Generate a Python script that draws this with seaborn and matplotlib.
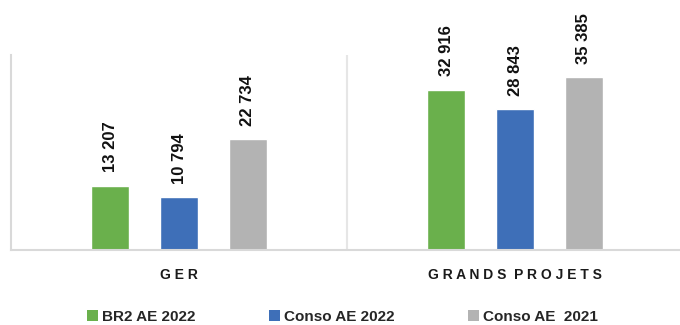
import matplotlib
matplotlib.use("Agg")
import matplotlib.pyplot as plt
import seaborn as sns
import pandas as pd
from matplotlib.patches import Patch

categories = ["G E R", "G R A N D S  P R O J E T S"]
series = ["BR2 AE 2022", "Conso AE 2022", "Conso AE  2021"]
br2_ae_2022 = [13207, 32916]
conso_ae_2022 = [10794, 28843]
conso_ae_2021 = [22734, 35385]
colors = ["#6AB04C", "#3E6FB8", "#B3B3B3"]

rows = []
for s, vals in zip(series, [br2_ae_2022, conso_ae_2022, conso_ae_2021]):
    for c, v in zip(categories, vals):
        rows.append({"cat": c, "serie": s, "val": v})
df = pd.DataFrame(rows)

sns.set_theme(style="white")
plt.rcParams["font.family"] = ["Liberation Sans", "DejaVu Sans"]

fig = plt.figure(figsize=(6.8, 3.25), dpi=100)
ax = fig.add_axes([11 / 680, 75 / 325, 672 / 680, 195 / 325])

sns.barplot(data=df, x="cat", y="val", hue="serie", order=categories,
            hue_order=series, palette=colors, width=0.616, gap=0.46,
            saturation=1, ax=ax, legend=False)

ax.set_ylim(0, 40000)
ax.set_xlim(-0.5, 1.5)
ax.set_xlabel("")
ax.set_ylabel("")
ax.set_yticks([])

for cont, vals in zip(ax.containers, [br2_ae_2022, conso_ae_2022, conso_ae_2021]):
    labels = [f"{v:,}".replace(",", " ") for v in vals]
    ax.bar_label(cont, labels=labels, rotation=90, padding=9.5,
                 fontsize=12, fontweight="bold", color="#111111")

for side in ["top", "right"]:
    ax.spines[side].set_visible(False)
for side in ["left", "bottom"]:
    ax.spines[side].set_color("#D9D9D9")
    ax.spines[side].set_linewidth(1.5)
ax.axvline(0.5, color="#E6E6E6", lw=1.5)

ax.tick_params(axis="x", length=0, pad=13)
for t in ax.get_xticklabels():
    t.set_fontsize(10)
    t.set_fontweight("bold")
    t.set_color("#1A1A1A")

handles = [Patch(facecolor=c, edgecolor="none") for c in colors]
fig.legend(handles, series, loc="center left",
           bbox_to_anchor=(87 / 680, 1 - 317 / 325), ncol=3, frameon=False,
           prop={"weight": "bold", "size": 11},
           handlelength=0.72, handleheight=0.72, handletextpad=0.26,
           columnspacing=4.8, borderpad=0, borderaxespad=0)

fig.savefig("out.png", dpi=100)
